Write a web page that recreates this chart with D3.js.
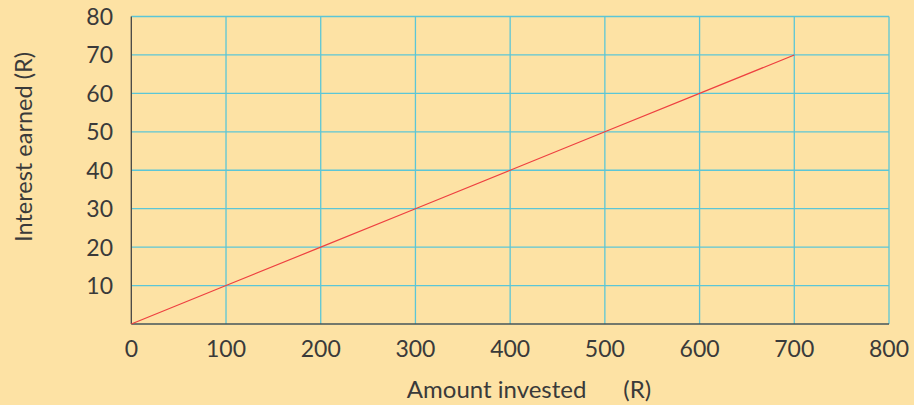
<!DOCTYPE html>
<html><head><meta charset="utf-8">
<script src="https://cdn.jsdelivr.net/npm/d3@7"></script>
<style>
html,body{margin:0;padding:0;background:#fde2a4;}
svg{display:block;}
text{font-family:Lato,"Open Sans",sans-serif;fill:#3a3a3a;}
</style></head>
<body>
<svg id="c" width="914" height="405"></svg>
<script>
const amounts = [0, 100, 200, 300, 400, 500, 600, 700];
const interest = [0, 10, 20, 30, 40, 50, 60, 70];
const xTicks = [0, 100, 200, 300, 400, 500, 600, 700, 800];
const yTicks = [10, 20, 30, 40, 50, 60, 70, 80];
const xTitle = "Amount invested\u00a0\u00a0\u00a0\u00a0\u00a0\u00a0(R)";
const yTitle = "Interest earned (R)";

const svg = d3.select("#c");
const x = d3.scaleLinear().domain([0, 800]).range([131.3, 889]);
const y = d3.scaleLinear().domain([0, 80]).range([324, 16.5]);

svg.append("rect").attr("width", 914).attr("height", 405).attr("fill", "#fde2a4");

const grid = svg.append("g").attr("stroke", "#5cc6d6").attr("stroke-width", 1.3);
grid.selectAll("line.v").data(xTicks.slice(1)).join("line")
  .attr("x1", d => x(d)).attr("x2", d => x(d)).attr("y1", y(0)).attr("y2", y(80));
grid.selectAll("line.h").data(yTicks).join("line")
  .attr("x1", x(0)).attr("x2", x(800)).attr("y1", d => y(d)).attr("y2", d => y(d));

// axes lines
svg.append("line").attr("x1", x(0)).attr("x2", x(0)).attr("y1", y(0)).attr("y2", y(80))
  .attr("stroke", "#444").attr("stroke-width", 1.3);
svg.append("line").attr("x1", x(0)).attr("x2", x(800)).attr("y1", y(0)).attr("y2", y(0))
  .attr("stroke", "#44545a").attr("stroke-width", 1.3);

// data line
const line = d3.line().x((d, i) => x(amounts[i])).y(d => y(d));
svg.append("path").datum(interest).attr("d", line)
  .attr("fill", "none").attr("stroke", "#ee4040").attr("stroke-width", 1.2);

// tick labels
svg.append("g").selectAll("text").data(xTicks).join("text")
  .attr("x", d => x(d)).attr("y", 357).attr("text-anchor", "middle")
  .attr("font-size", 23).text(d => d);
svg.append("g").selectAll("text").data(yTicks).join("text")
  .attr("x", 113).attr("y", d => y(d) + 8.5).attr("text-anchor", "end")
  .attr("font-size", 23).text(d => d);

svg.append("text").attr("x", 529).attr("y", 398).attr("text-anchor", "middle")
  .attr("font-size", 24).text(xTitle);
svg.append("text").attr("transform", "translate(32,147) rotate(-90)")
  .attr("text-anchor", "middle").attr("font-size", 23.5).text(yTitle);
</script>
</body></html>
